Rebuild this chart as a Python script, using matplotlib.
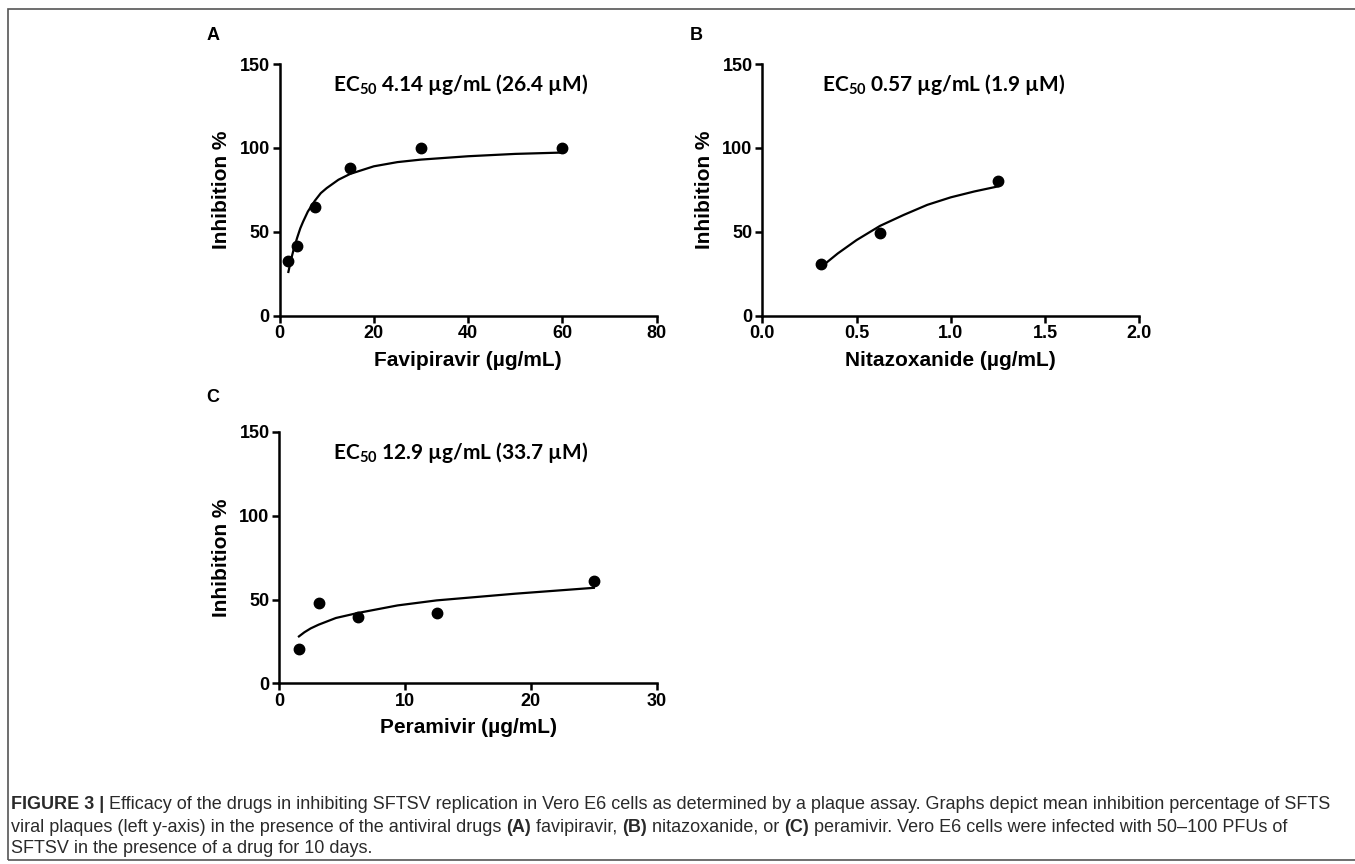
import numpy as np
import matplotlib
matplotlib.use("Agg")
import matplotlib.pyplot as plt
from matplotlib.patches import Rectangle

plt.rcParams['font.family'] = ['Liberation Sans', 'DejaVu Sans']
plt.rcParams['mathtext.fontset'] = 'custom'
plt.rcParams['mathtext.rm'] = 'Lato:bold'
plt.rcParams['mathtext.bf'] = 'Lato:bold'
plt.rcParams['mathtext.default'] = 'regular'

# panel A - favipiravir
fav_x = [1.875, 3.75, 7.5, 15, 30, 60]
fav_y = [32.5, 41.5, 64.5, 88, 100, 100]
fav_fit_x = [1.875, 2.5, 3.0, 3.75, 4.4, 5, 6, 7.5, 8.75, 10, 12.5, 15, 20, 25, 30, 40, 50, 60]
fav_fit_y = [26, 34, 39.5, 46.5, 52, 56, 62, 68.5, 73, 76, 81, 84.5, 89, 91.5, 93, 95, 96.4, 97.2]

# panel B - nitazoxanide
nit_x = [0.3125, 0.625, 1.25]
nit_y = [31, 49, 80]
nit_fit_x = [0.3125, 0.4, 0.5, 0.625, 0.75, 0.875, 1.0, 1.125, 1.25]
nit_fit_y = [29, 37, 45, 53.5, 60, 66, 70.5, 74, 77]

# panel C - peramivir
per_x = [1.5625, 3.125, 6.25, 12.5, 25]
per_y = [20.6, 48, 39.5, 41.7, 61]
per_fit_x = [1.5625, 2.0, 2.5, 3.125, 4.5, 6.25, 9.4, 12.5, 18.75, 25]
per_fit_y = [28, 30.5, 32.8, 35, 39, 42, 46.5, 49.5, 53.5, 57]

panels = [
    ("A", [0.2063, 0.6348, 0.2784, 0.2911], fav_x, fav_y, fav_fit_x, fav_fit_y,
     "Favipiravir (µg/mL)", [0, 80], [0, 20, 40, 60, 80], ["0", "20", "40", "60", "80"],
     "EC$_{50}$ 4.14 µg/mL (26.4 µM)"),
    ("B", [0.5626, 0.6348, 0.2782, 0.2911], nit_x, nit_y, nit_fit_x, nit_fit_y,
     "Nitazoxanide (µg/mL)", [0, 2.0], [0, 0.5, 1.0, 1.5, 2.0], ["0.0", "0.5", "1.0", "1.5", "2.0"],
     "EC$_{50}$ 0.57 µg/mL (1.9 µM)"),
    ("C", [0.2061, 0.2091, 0.2786, 0.2909], per_x, per_y, per_fit_x, per_fit_y,
     "Peramivir (µg/mL)", [0, 30], [0, 10, 20, 30], ["0", "10", "20", "30"],
     "EC$_{50}$ 12.9 µg/mL (33.7 µM)"),
]

fig = plt.figure(figsize=(13.55, 8.64), dpi=100)

# border of the figure box
fig.patches.append(Rectangle((8 / 1355, 1 - 860 / 864), 1.1, (860 - 9) / 864,
                             transform=fig.transFigure, fill=False,
                             edgecolor='#555555', linewidth=1.2))

for label, pos, x, y, fx, fy, xlabel, xlim, xt, xtl, title in panels:
    ax = fig.add_axes(pos)
    ax.plot(fx, fy, color='black', linewidth=1.6, clip_on=False)
    ax.plot(x, y, 'o', color='black', markersize=7.5, clip_on=False)
    ax.set_xlim(xlim)
    ax.set_ylim(0, 150)
    ax.set_xticks(xt)
    ax.set_xticklabels(xtl)
    ax.set_yticks([0, 50, 100, 150])
    for s in ['top', 'right']:
        ax.spines[s].set_visible(False)
    for s in ['left', 'bottom']:
        ax.spines[s].set_linewidth(1.8)
    ax.tick_params(width=1.8, length=5, labelsize=13, pad=2)
    for t in ax.get_xticklabels() + ax.get_yticklabels():
        t.set_fontweight('bold')
        t.set_fontfamily('Liberation Sans')
    ax.set_xlabel(xlabel, fontsize=15, fontweight='bold', labelpad=6, fontfamily='Liberation Sans')
    ax.set_ylabel("Inhibition %", fontsize=15, fontweight='bold', labelpad=6, fontfamily='Liberation Sans')
    ax.text(0.48, 0.92, title, transform=ax.transAxes, ha='center', va='center',
            fontsize=15, fontfamily='Lato', fontweight='bold')

fig.text(213 / 1355, 1 - 36 / 864, "A", fontsize=13, fontweight='bold', ha='center', va='center')
fig.text(696 / 1355, 1 - 36 / 864, "B", fontsize=13, fontweight='bold', ha='center', va='center')
fig.text(213 / 1355, 1 - 398 / 864, "C", fontsize=13, fontweight='bold', ha='center', va='center')

# caption, drawn piece by piece so bold parts can sit inside a line
caption = [
    (809, [("FIGURE 3 |", 'bold'),
           (" Efficacy of the drugs in inhibiting SFTSV replication in Vero E6 cells as determined by a plaque assay. Graphs depict mean inhibition percentage of SFTS", 'normal')]),
    (832, [("viral plaques (left y-axis) in the presence of the antiviral drugs ", 'normal'),
           ("(A)", 'bold'), (" favipiravir, ", 'normal'), ("(B)", 'bold'),
           (" nitazoxanide, or ", 'normal'), ("(C)", 'bold'),
           (" peramivir. Vero E6 cells were infected with 50–100 PFUs of", 'normal')]),
    (853, [("SFTSV in the presence of a drug for 10 days.", 'normal')]),
]

renderer = fig.canvas.get_renderer()
for ypix, parts in caption:
    xpix = 11
    for txt, w in parts:
        t = fig.text(xpix / 1355, 1 - ypix / 864, txt, fontsize=13.0, fontweight=w,
                     color='#2a2a2a', ha='left', va='baseline')
        bb = t.get_window_extent(renderer=renderer)
        xpix += bb.width

fig.savefig("out.png", dpi=100)
